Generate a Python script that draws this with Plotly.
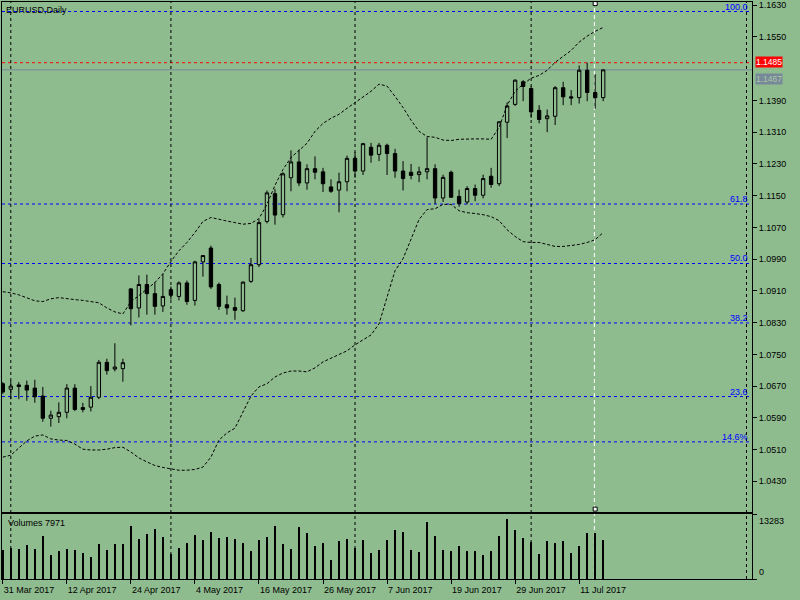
import pandas as pd
import plotly.graph_objects as go
from plotly.subplots import make_subplots

datas = [d.strftime("%Y-%m-%d") for d in pd.bdate_range("2017-03-31", "2017-07-14")]

abertura = [1.0676, 1.0662, 1.0673, 1.0672, 1.0665, 1.0645, 1.0589, 1.0593, 1.0604, 1.0665,
            1.0616, 1.0617, 1.0642, 1.0730, 1.0713, 1.0714, 1.0915, 1.0867, 1.0926, 1.0903,
            1.0872, 1.0913, 1.0896, 1.0930, 1.0886, 1.0983, 1.1018, 1.0926, 1.0875, 1.0868,
            1.0860, 1.0934, 1.0976, 1.1085, 1.1155, 1.1102, 1.1195, 1.1235, 1.1182, 1.1218,
            1.1210, 1.1172, 1.1164, 1.1185, 1.1244, 1.1212, 1.1272, 1.1254, 1.1277, 1.1256,
            1.1212, 1.1209, 1.1203, 1.1210, 1.1218, 1.1144, 1.1209, 1.1148, 1.1134, 1.1168,
            1.1151, 1.1199, 1.1180, 1.1335, 1.1380, 1.1437, 1.1420, 1.1365, 1.1344, 1.1350,
            1.1422, 1.1399, 1.1397, 1.1466, 1.1410, 1.1397]
maxima = [1.0680, 1.0684, 1.0680, 1.0684, 1.0686, 1.0668, 1.0608, 1.0629, 1.0675, 1.0675,
          1.0628, 1.0670, 1.0736, 1.0739, 1.0778, 1.0739, 1.0917, 1.0949, 1.0951, 1.0932,
          1.0953, 1.0921, 1.0934, 1.0936, 1.0986, 1.1000, 1.1024, 1.0931, 1.0898, 1.0893,
          1.0934, 1.0993, 1.1090, 1.1163, 1.1167, 1.1209, 1.1264, 1.1266, 1.1229, 1.1249,
          1.1220, 1.1191, 1.1208, 1.1251, 1.1260, 1.1283, 1.1283, 1.1283, 1.1281, 1.1268,
          1.1237, 1.1230, 1.1223, 1.1297, 1.1229, 1.1203, 1.1213, 1.1165, 1.1174, 1.1178,
          1.1203, 1.1220, 1.1338, 1.1385, 1.1443, 1.1441, 1.1426, 1.1378, 1.1367, 1.1426,
          1.1437, 1.1416, 1.1478, 1.1485, 1.1456, 1.1468]
minimas = [1.0650, 1.0637, 1.0637, 1.0633, 1.0628, 1.0580, 1.0568, 1.0577, 1.0589, 1.0607,
           1.0604, 1.0606, 1.0637, 1.0699, 1.0707, 1.0681, 1.0823, 1.0843, 1.0850, 1.0850,
           1.0857, 1.0888, 1.0886, 1.0875, 1.0873, 1.0946, 1.0915, 1.0862, 1.0850, 1.0837,
           1.0857, 1.0930, 1.0970, 1.1080, 1.1077, 1.1095, 1.1161, 1.1174, 1.1165, 1.1191,
           1.1159, 1.1157, 1.1108, 1.1161, 1.1195, 1.1202, 1.1233, 1.1237, 1.1202, 1.1195,
           1.1163, 1.1191, 1.1184, 1.1191, 1.1129, 1.1134, 1.1144, 1.1122, 1.1128, 1.1136,
           1.1143, 1.1170, 1.1174, 1.1295, 1.1376, 1.1388, 1.1346, 1.1332, 1.1310, 1.1328,
           1.1378, 1.1378, 1.1382, 1.1388, 1.1369, 1.1388]
fechamento = [1.0655, 1.0670, 1.0669, 1.0660, 1.0643, 1.0589, 1.0597, 1.0604, 1.0665, 1.0611,
              1.0611, 1.0642, 1.0730, 1.0709, 1.0718, 1.0729, 1.0865, 1.0926, 1.0903, 1.0871,
              1.0896, 1.0899, 1.0930, 1.0883, 1.0983, 1.0999, 1.0920, 1.0871, 1.0867, 1.0861,
              1.0932, 1.0976, 1.1082, 1.1157, 1.1101, 1.1205, 1.1235, 1.1182, 1.1218, 1.1209,
              1.1180, 1.1161, 1.1185, 1.1244, 1.1212, 1.1281, 1.1252, 1.1277, 1.1256, 1.1212,
              1.1193, 1.1201, 1.1210, 1.1218, 1.1144, 1.1196, 1.1146, 1.1130, 1.1168, 1.1151,
              1.1193, 1.1178, 1.1336, 1.1376, 1.1441, 1.1425, 1.1361, 1.1342, 1.1351, 1.1422,
              1.1399, 1.1396, 1.1466, 1.1410, 1.1397, 1.1467]

banda_sup = [1.0908, 1.0905, 1.0900, 1.0893, 1.0885, 1.0883, 1.0890, 1.0893, 1.0890, 1.0888,
             1.0886, 1.0883, 1.0880, 1.0867, 1.0857, 1.0852, 1.0883, 1.0898, 1.0915, 1.0931,
             1.0953, 1.0984, 1.1011, 1.1032, 1.1057, 1.1085, 1.1095, 1.1090, 1.1086, 1.1082,
             1.1078, 1.1080, 1.1092, 1.1128, 1.1176, 1.1216, 1.1246, 1.1264, 1.1282, 1.1312,
             1.1332, 1.1345, 1.1355, 1.1370, 1.1385, 1.1398, 1.1413, 1.1431, 1.1426, 1.1400,
             1.1372, 1.1340, 1.1312, 1.1299, 1.1297, 1.1290, 1.1289, 1.1292, 1.1293, 1.1293,
             1.1293, 1.1292, 1.1322, 1.1378, 1.1413, 1.1431, 1.1446, 1.1453, 1.1466, 1.1486,
             1.1501, 1.1516, 1.1537, 1.1552, 1.1564, 1.1574]
banda_inf = [1.0491, 1.0496, 1.0514, 1.0532, 1.0544, 1.0547, 1.0537, 1.0534, 1.0533, 1.0524,
             1.0511, 1.0509, 1.0509, 1.0511, 1.0515, 1.0516, 1.0504, 1.0489, 1.0479, 1.0470,
             1.0465, 1.0461, 1.0458, 1.0458, 1.0460, 1.0466, 1.0491, 1.0534, 1.0552, 1.0564,
             1.0605, 1.0645, 1.0668, 1.0676, 1.0693, 1.0703, 1.0708, 1.0708, 1.0706, 1.0716,
             1.0731, 1.0741, 1.0749, 1.0759, 1.0774, 1.0787, 1.0799, 1.0827, 1.0895, 1.0961,
             1.0991, 1.1039, 1.1090, 1.1115, 1.1117, 1.1128, 1.1128, 1.1112, 1.1107, 1.1105,
             1.1102, 1.1097, 1.1087, 1.1064, 1.1047, 1.1034, 1.1032, 1.1032, 1.1027, 1.1022,
             1.1022, 1.1024, 1.1027, 1.1032, 1.1039, 1.1057]

volumes = [6000, 6324, 6180, 7004, 6180, 8858, 4944, 5768, 6112, 5974,
           5356, 4532, 7210, 5974, 7210, 7210, 10918, 8240, 9270, 10300,
           8652, 5150, 6386, 7416, 9064, 8034, 9682, 8446, 8652, 8240,
           7416, 5768, 8034, 8652, 10918, 7210, 6180, 10712, 9476, 6798,
           7416, 3914, 7828, 8240, 6386, 8034, 5356, 5974, 8034, 10094,
           9682, 5974, 5562, 11742, 8858, 5974, 5768, 6798, 5768, 5768,
           4944, 5768, 8858, 12360, 10094, 8446, 7622, 5150, 7828, 7416,
           7828, 5356, 6798, 9476, 9476, 7971]

fibo_niveis = ["100.0", "61.8", "50.0", "38.2", "23.6", "14.6%"]
fibo_fracoes = [1.0, 0.618, 0.5, 0.382, 0.236, 0.146]
fibo_minimo = 1.0344
fibo_maximo = 1.1614

# 1.1470 fica escondido atras das etiquetas ask/bid, como no terminal
precos_eixo = [1.0430, 1.0510, 1.0590, 1.0670, 1.0750, 1.0830, 1.0910, 1.0990,
               1.1070, 1.1150, 1.1230, 1.1310, 1.1390, 1.1550, 1.1630]
rotulos_datas = ["31 Mar 2017", "12 Apr 2017", "24 Apr 2017", "4 May 2017", "16 May 2017",
                 "26 May 2017", "7 Jun 2017", "19 Jun 2017", "29 Jun 2017", "11 Jul 2017"]
linhas_mes = [1, 21, 44, 66, 92.9]
preco_ask = 1.1485
preco_bid = 1.1467
vol_max = 13283
vol_atual = 7971

FUNDO = "#8fbc8f"
FONTE = "Liberation Sans"

fig = make_subplots(rows=2, cols=1, shared_xaxes=True, vertical_spacing=0)

fig.add_trace(
    go.Candlestick(
        x=datas, open=abertura, high=maxima, low=minimas, close=fechamento,
        increasing=dict(line=dict(color="black", width=1), fillcolor=FUNDO),
        decreasing=dict(line=dict(color="black", width=1), fillcolor="black"),
        showlegend=False, hoverinfo="skip",
    ),
    row=1, col=1,
)
for banda in (banda_sup, banda_inf):
    fig.add_trace(
        go.Scatter(x=datas, y=banda, mode="lines",
                   line=dict(color="black", width=1, dash="3px,2px"),
                   showlegend=False, hoverinfo="skip"),
        row=1, col=1,
    )

fig.add_trace(
    go.Bar(x=datas, y=volumes, width=0.1, marker=dict(color="black", line=dict(width=0)),
           showlegend=False, hoverinfo="skip"),
    row=2, col=1,
)

# marcadores da linha vertical selecionada
fig.add_trace(
    go.Scatter(x=[datas[74], datas[74]], y=[1.1634, 1.0360], mode="markers",
               marker=dict(symbol="square", size=4, color="white", line=dict(color="black", width=1)),
               showlegend=False, hoverinfo="skip", cliponaxis=False),
    row=1, col=1,
)

eixo_x = dict(type="category", range=[-0.1, 93.59], showgrid=False, zeroline=False,
              showline=True, mirror=True, linecolor="black", linewidth=1, automargin=False)
fig.update_xaxes(**eixo_x)
fig.update_xaxes(showticklabels=False, ticks="", rangeslider=dict(visible=False), row=1, col=1)
fig.update_xaxes(
    tickvals=[datas[i] for i in range(0, 76, 8)], ticktext=rotulos_datas,
    ticks="outside", ticklen=4, tickcolor="black", ticklabelposition="outside right",
    ticklabelstandoff=2,
    tickfont=dict(family=FONTE, size=9, color="black"), row=2, col=1,
)

fig.update_yaxes(showgrid=False, zeroline=False, showline=True, mirror=True,
                 linecolor="black", linewidth=1, side="right", automargin=False)
fig.update_yaxes(
    domain=[0.1163, 1.0], range=[1.0353, 1.1638], tickvals=precos_eixo, tickformat=".4f",
    ticks="outside", ticklen=4, tickcolor="black",
    tickfont=dict(family=FONTE, size=9, color="black"), row=1, col=1,
)
fig.update_yaxes(
    domain=[0.0, 0.1123], range=[0, 13330], tickvals=[0, vol_max], showticklabels=False,
    ticks="outside", ticklen=4, tickcolor="black", row=2, col=1,
)

formas = []
for nome, fr in zip(fibo_niveis, fibo_fracoes):
    nivel = fibo_minimo + fr * (fibo_maximo - fibo_minimo)
    formas.append(dict(type="line", xref="x domain", x0=0, x1=1, yref="y", y0=nivel, y1=nivel,
                       line=dict(color="#0000ff", width=1, dash="3px,3px"), layer="below"))
    fig.add_annotation(text=nome, xref="x domain", x=1, xanchor="right", xshift=-2,
                       yref="y", y=nivel, yanchor="bottom", yshift=-2, showarrow=False,
                       font=dict(family=FONTE, size=9, color="#0000ff"))

formas.append(dict(type="line", xref="x domain", x0=0, x1=1, yref="y", y0=preco_ask, y1=preco_ask,
                   line=dict(color="#ff0000", width=1, dash="3px,3px"), layer="below"))
formas.append(dict(type="line", xref="x domain", x0=0, x1=1, yref="y", y0=preco_bid, y1=preco_bid,
                   line=dict(color="#778899", width=1), layer="below"))
for pos in linhas_mes:
    formas.append(dict(type="line", xref="x", x0=pos, x1=pos, yref="paper", y0=0, y1=1,
                       line=dict(color="black", width=1, dash="3px,3px"), layer="below"))
formas.append(dict(type="line", xref="x", x0=73.9, x1=73.9, yref="paper", y0=0, y1=1,
                   line=dict(color="white", width=1, dash="4px,3px"), layer="below"))

# etiquetas de preco ask / bid na escala
fig.add_annotation(text=f"{preco_ask:.4f}", xref="paper", x=1, xanchor="left", xshift=3,
                   yref="y", y=preco_ask, yanchor="bottom", yshift=-5, showarrow=False,
                   bgcolor="#ff0000", borderpad=0,
                   font=dict(family=FONTE, size=8.5, color="white"))
fig.add_annotation(text=f"{preco_bid:.4f}", xref="paper", x=1, xanchor="left", xshift=3,
                   yref="y", y=preco_bid, yanchor="top", yshift=-3, showarrow=False,
                   bgcolor="#778899", borderpad=0,
                   font=dict(family=FONTE, size=8.5, color="#a9c9a4"))
fig.add_annotation(text="EURUSD,Daily", xref="paper", x=0, xanchor="left", xshift=2,
                   yref="paper", y=1, yanchor="top", yshift=-1, showarrow=False,
                   font=dict(family=FONTE, size=9, color="black"))
fig.add_annotation(text=f"Volumes {vol_atual}", xref="paper", x=0, xanchor="left", xshift=4,
                   yref="y2 domain", y=1, yanchor="top", yshift=-2, showarrow=False,
                   font=dict(family=FONTE, size=9, color="black"))
fig.add_annotation(text=str(vol_max), xref="paper", x=1, xanchor="left", xshift=5,
                   yref="y2 domain", y=1, yanchor="top", yshift=0, showarrow=False,
                   font=dict(family=FONTE, size=9, color="black"))
fig.add_annotation(text="0", xref="paper", x=1, xanchor="left", xshift=5,
                   yref="y2 domain", y=0, yanchor="bottom", yshift=0, showarrow=False,
                   font=dict(family=FONTE, size=9, color="black"))

fig.update_layout(
    width=800, height=600,
    template="none",
    paper_bgcolor=FUNDO, plot_bgcolor=FUNDO,
    margin=dict(l=2, r=48, t=2, b=21),
    shapes=formas,
    boxgap=0.4,
    bargap=0,
    showlegend=False,
    font=dict(family=FONTE, size=9, color="black"),
)

# a pagina padrao tem margem de 8px no body; zera para alinhar com a janela
fig.write_html("out.html", config={"displayModeBar": False},
               post_script="document.body.style.margin='0';")
